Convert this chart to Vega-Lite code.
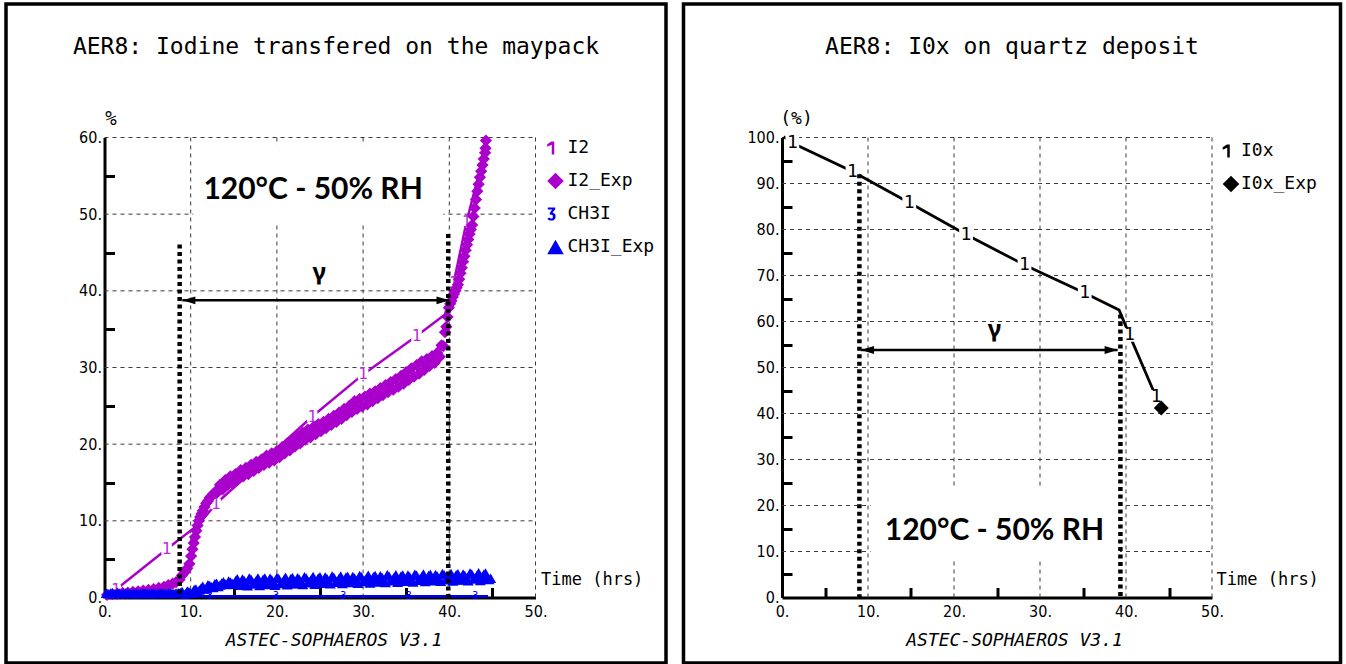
{
  "$schema": "https://vega.github.io/schema/vega-lite/v6.json",
  "background": "white",
  "padding": {"left": 4, "top": 2, "right": 0, "bottom": 0},
  "spacing": 13.5,
  "config": {
    "view": {"stroke": "black", "strokeWidth": 3.5},
    "axis": {"labelFont": "DejaVu Sans Condensed, DejaVu Sans Mono", "labelFontSize": 16, "labelColor": "black", "titleFont": "DejaVu Sans Mono", "titleColor": "black", "titleFontWeight": "normal", "domainColor": "black", "domainWidth": 3, "tickColor": "black", "tickWidth": 3, "grid": false, "labelOverlap": false, "labelFlush": false}
  },
  "resolve": {"scale": {"color": "independent", "shape": "independent"}, "legend": {"color": "independent", "shape": "independent"}},
  "datasets": {
    "gridV": [{"g": 10}, {"g": 20}, {"g": 30}, {"g": 40}, {"g": 50}],
    "lGridH": [{"g": 10}, {"g": 20}, {"g": 30}, {"g": 40}, {"g": 50}, {"g": 60}],
    "rGridH": [{"g": 10}, {"g": 20}, {"g": 30}, {"g": 40}, {"g": 50}, {"g": 60}, {"g": 70}, {"g": 80}, {"g": 90}, {"g": 100}],
    "lBox": [{"x1": 10.3, "x2": 39.3, "y1": 48.6, "y2": 59.0}],
    "rBox": [{"x1": 10.3, "x2": 39.3, "y1": 8, "y2": 24}],
    "lCond": [{"t": 24.2, "v": 53.1, "label": "120°C - 50% RH"}],
    "rCond": [{"t": 24.7, "v": 14.4, "label": "120°C - 50% RH"}],
    "i2Sim": [{"t": 0.6, "v": 0.4}, {"t": 1.3, "v": 1.0}, {"t": 7.2, "v": 6.3}, {"t": 11.0, "v": 9.6}, {"t": 12.9, "v": 12.2}, {"t": 18.6, "v": 18.0}, {"t": 24.1, "v": 23.6}, {"t": 30.0, "v": 29.1}, {"t": 36.2, "v": 34.1}, {"t": 39.5, "v": 36.9}, {"t": 40.5, "v": 41.0}, {"t": 42.0, "v": 49.0}, {"t": 44.3, "v": 59.0}],
    "i2Marks": [{"t": 1.3, "v": 1.0, "m": "1"}, {"t": 7.2, "v": 6.3, "m": "1"}, {"t": 12.9, "v": 12.2, "m": "1"}, {"t": 18.6, "v": 18.0, "m": "1"}, {"t": 24.1, "v": 23.6, "m": "1"}, {"t": 30.0, "v": 29.1, "m": "1"}, {"t": 36.2, "v": 34.1, "m": "1"}, {"t": 40.5, "v": 41.0, "m": "1"}, {"t": 42.0, "v": 49.0, "m": "1"}],
    "lExp": [
      {"t": 0.3, "v": 0.35, "s": "I2_Exp"}, {"t": 0.9, "v": 0.45, "s": "I2_Exp"}, {"t": 1.5, "v": 0.5, "s": "I2_Exp"}, {"t": 2.1, "v": 0.6, "s": "I2_Exp"}, {"t": 2.7, "v": 0.65, "s": "I2_Exp"}, {"t": 3.3, "v": 0.75, "s": "I2_Exp"}, {"t": 3.9, "v": 0.8, "s": "I2_Exp"}, {"t": 4.5, "v": 0.9, "s": "I2_Exp"}, {"t": 5.1, "v": 1.0, "s": "I2_Exp"}, {"t": 5.7, "v": 1.1, "s": "I2_Exp"}, {"t": 6.3, "v": 1.25, "s": "I2_Exp"}, {"t": 6.9, "v": 1.4, "s": "I2_Exp"}, {"t": 7.4, "v": 1.6, "s": "I2_Exp"}, {"t": 7.9, "v": 1.8, "s": "I2_Exp"}, {"t": 8.3, "v": 2.0, "s": "I2_Exp"}, {"t": 8.7, "v": 2.3, "s": "I2_Exp"},
      {"t": 9.0, "v": 2.9, "s": "I2_Exp"}, {"t": 9.3, "v": 3.3, "s": "I2_Exp"}, {"t": 9.6, "v": 3.8, "s": "I2_Exp"}, {"t": 9.85, "v": 4.4, "s": "I2_Exp"}, {"t": 10.05, "v": 5.4, "s": "I2_Exp"}, {"t": 10.2, "v": 6.3, "s": "I2_Exp"}, {"t": 10.35, "v": 7.1, "s": "I2_Exp"}, {"t": 10.5, "v": 7.9, "s": "I2_Exp"}, {"t": 10.65, "v": 8.7, "s": "I2_Exp"}, {"t": 10.8, "v": 9.4, "s": "I2_Exp"}, {"t": 10.95, "v": 10.0, "s": "I2_Exp"}, {"t": 11.1, "v": 10.5, "s": "I2_Exp"}, {"t": 11.25, "v": 10.9, "s": "I2_Exp"}, {"t": 11.4, "v": 11.3, "s": "I2_Exp"}, {"t": 11.6, "v": 11.8, "s": "I2_Exp"}, {"t": 11.8, "v": 12.3, "s": "I2_Exp"}, {"t": 12.0, "v": 12.6, "s": "I2_Exp"}, {"t": 12.2, "v": 13.0, "s": "I2_Exp"}, {"t": 12.4, "v": 13.2, "s": "I2_Exp"}, {"t": 12.6, "v": 13.5, "s": "I2_Exp"}, {"t": 12.8, "v": 13.7, "s": "I2_Exp"}, {"t": 13.0, "v": 13.9, "s": "I2_Exp"},
      {"t": 13.1, "v": 13.7, "s": "I2_Exp"}, {"t": 13.4, "v": 14.7, "s": "I2_Exp"}, {"t": 13.7, "v": 14.1, "s": "I2_Exp"}, {"t": 14.0, "v": 15.3, "s": "I2_Exp"}, {"t": 14.3, "v": 14.7, "s": "I2_Exp"}, {"t": 14.6, "v": 15.8, "s": "I2_Exp"}, {"t": 14.9, "v": 14.9, "s": "I2_Exp"}, {"t": 15.2, "v": 16.1, "s": "I2_Exp"}, {"t": 15.5, "v": 15.4, "s": "I2_Exp"}, {"t": 15.8, "v": 16.6, "s": "I2_Exp"}, {"t": 16.1, "v": 15.8, "s": "I2_Exp"}, {"t": 16.4, "v": 16.9, "s": "I2_Exp"}, {"t": 16.7, "v": 16.1, "s": "I2_Exp"}, {"t": 17.0, "v": 17.3, "s": "I2_Exp"}, {"t": 17.3, "v": 16.5, "s": "I2_Exp"}, {"t": 17.6, "v": 17.7, "s": "I2_Exp"}, {"t": 17.9, "v": 16.9, "s": "I2_Exp"}, {"t": 18.2, "v": 18.0, "s": "I2_Exp"}, {"t": 18.5, "v": 17.3, "s": "I2_Exp"}, {"t": 18.8, "v": 18.5, "s": "I2_Exp"}, {"t": 19.1, "v": 17.6, "s": "I2_Exp"}, {"t": 19.4, "v": 18.8, "s": "I2_Exp"}, {"t": 19.7, "v": 17.9, "s": "I2_Exp"}, {"t": 20.0, "v": 19.1, "s": "I2_Exp"}, {"t": 20.3, "v": 18.3, "s": "I2_Exp"}, {"t": 20.6, "v": 19.6, "s": "I2_Exp"}, {"t": 20.9, "v": 18.8, "s": "I2_Exp"}, {"t": 21.2, "v": 20.1, "s": "I2_Exp"}, {"t": 21.5, "v": 19.2, "s": "I2_Exp"}, {"t": 21.8, "v": 20.6, "s": "I2_Exp"}, {"t": 22.1, "v": 19.7, "s": "I2_Exp"}, {"t": 22.4, "v": 21.0, "s": "I2_Exp"}, {"t": 22.7, "v": 20.1, "s": "I2_Exp"}, {"t": 23.0, "v": 21.5, "s": "I2_Exp"}, {"t": 23.3, "v": 20.6, "s": "I2_Exp"}, {"t": 23.6, "v": 21.9, "s": "I2_Exp"}, {"t": 23.9, "v": 20.9, "s": "I2_Exp"}, {"t": 24.2, "v": 22.2, "s": "I2_Exp"}, {"t": 24.5, "v": 21.3, "s": "I2_Exp"}, {"t": 24.8, "v": 22.6, "s": "I2_Exp"}, {"t": 25.1, "v": 21.7, "s": "I2_Exp"}, {"t": 25.4, "v": 22.9, "s": "I2_Exp"}, {"t": 25.7, "v": 22.1, "s": "I2_Exp"}, {"t": 26.0, "v": 23.3, "s": "I2_Exp"}, {"t": 26.3, "v": 22.5, "s": "I2_Exp"}, {"t": 26.6, "v": 23.7, "s": "I2_Exp"}, {"t": 26.9, "v": 22.9, "s": "I2_Exp"}, {"t": 27.2, "v": 24.1, "s": "I2_Exp"}, {"t": 27.5, "v": 23.3, "s": "I2_Exp"}, {"t": 27.8, "v": 24.6, "s": "I2_Exp"}, {"t": 28.1, "v": 23.8, "s": "I2_Exp"}, {"t": 28.4, "v": 25.0, "s": "I2_Exp"}, {"t": 28.7, "v": 24.2, "s": "I2_Exp"}, {"t": 29.0, "v": 25.6, "s": "I2_Exp"}, {"t": 29.3, "v": 24.6, "s": "I2_Exp"}, {"t": 29.6, "v": 25.9, "s": "I2_Exp"}, {"t": 29.9, "v": 24.9, "s": "I2_Exp"}, {"t": 30.2, "v": 26.2, "s": "I2_Exp"}, {"t": 30.5, "v": 25.2, "s": "I2_Exp"}, {"t": 30.8, "v": 26.6, "s": "I2_Exp"}, {"t": 31.1, "v": 25.6, "s": "I2_Exp"}, {"t": 31.4, "v": 26.9, "s": "I2_Exp"}, {"t": 31.7, "v": 26.0, "s": "I2_Exp"}, {"t": 32.0, "v": 27.3, "s": "I2_Exp"}, {"t": 32.3, "v": 26.4, "s": "I2_Exp"}, {"t": 32.6, "v": 27.7, "s": "I2_Exp"}, {"t": 32.9, "v": 26.8, "s": "I2_Exp"}, {"t": 33.2, "v": 28.1, "s": "I2_Exp"}, {"t": 33.5, "v": 27.1, "s": "I2_Exp"}, {"t": 33.8, "v": 28.5, "s": "I2_Exp"}, {"t": 34.1, "v": 27.5, "s": "I2_Exp"}, {"t": 34.4, "v": 28.9, "s": "I2_Exp"}, {"t": 34.7, "v": 27.9, "s": "I2_Exp"}, {"t": 35.0, "v": 29.4, "s": "I2_Exp"}, {"t": 35.3, "v": 28.4, "s": "I2_Exp"}, {"t": 35.6, "v": 29.9, "s": "I2_Exp"}, {"t": 35.9, "v": 28.8, "s": "I2_Exp"}, {"t": 36.2, "v": 30.3, "s": "I2_Exp"}, {"t": 36.5, "v": 29.2, "s": "I2_Exp"}, {"t": 36.8, "v": 30.8, "s": "I2_Exp"}, {"t": 37.1, "v": 29.7, "s": "I2_Exp"}, {"t": 37.4, "v": 31.1, "s": "I2_Exp"}, {"t": 37.7, "v": 30.2, "s": "I2_Exp"}, {"t": 38.0, "v": 31.5, "s": "I2_Exp"}, {"t": 38.3, "v": 30.6, "s": "I2_Exp"}, {"t": 38.6, "v": 31.9, "s": "I2_Exp"}, {"t": 38.9, "v": 31.4, "s": "I2_Exp"}, {"t": 39.1, "v": 32.9, "s": "I2_Exp"}, {"t": 39.3, "v": 32.8, "s": "I2_Exp"}, {"t": 39.5, "v": 34.6, "s": "I2_Exp"}, {"t": 39.65, "v": 35.3, "s": "I2_Exp"}, {"t": 39.8, "v": 36.6, "s": "I2_Exp"},
      {"t": 39.95, "v": 37.8, "s": "I2_Exp"}, {"t": 40.1, "v": 38.3, "s": "I2_Exp"}, {"t": 40.25, "v": 38.7, "s": "I2_Exp"}, {"t": 40.4, "v": 39.2, "s": "I2_Exp"}, {"t": 40.55, "v": 39.6, "s": "I2_Exp"}, {"t": 40.7, "v": 40.0, "s": "I2_Exp"}, {"t": 40.85, "v": 40.4, "s": "I2_Exp"}, {"t": 41.0, "v": 40.8, "s": "I2_Exp"}, {"t": 41.15, "v": 41.5, "s": "I2_Exp"}, {"t": 41.3, "v": 42.3, "s": "I2_Exp"}, {"t": 41.45, "v": 43.0, "s": "I2_Exp"}, {"t": 41.6, "v": 43.8, "s": "I2_Exp"}, {"t": 41.75, "v": 44.5, "s": "I2_Exp"}, {"t": 41.9, "v": 45.3, "s": "I2_Exp"}, {"t": 42.05, "v": 46.0, "s": "I2_Exp"}, {"t": 42.2, "v": 46.7, "s": "I2_Exp"}, {"t": 42.35, "v": 47.4, "s": "I2_Exp"}, {"t": 42.5, "v": 48.0, "s": "I2_Exp"}, {"t": 42.65, "v": 48.6, "s": "I2_Exp"}, {"t": 42.8, "v": 49.7, "s": "I2_Exp"}, {"t": 42.95, "v": 50.8, "s": "I2_Exp"}, {"t": 43.1, "v": 51.9, "s": "I2_Exp"}, {"t": 43.25, "v": 53.0, "s": "I2_Exp"}, {"t": 43.4, "v": 53.9, "s": "I2_Exp"}, {"t": 43.55, "v": 54.8, "s": "I2_Exp"}, {"t": 43.7, "v": 55.6, "s": "I2_Exp"}, {"t": 43.85, "v": 56.4, "s": "I2_Exp"}, {"t": 44.0, "v": 57.2, "s": "I2_Exp"}, {"t": 44.15, "v": 58.0, "s": "I2_Exp"}, {"t": 44.2, "v": 58.6, "s": "I2_Exp"}, {"t": 44.25, "v": 59.6, "s": "I2_Exp"},
      {"t": 0.2, "v": 0.55, "s": "CH3I_Exp"}, {"t": 0.7, "v": 0.6, "s": "CH3I_Exp"}, {"t": 1.2, "v": 0.5, "s": "CH3I_Exp"}, {"t": 1.7, "v": 0.6, "s": "CH3I_Exp"}, {"t": 2.2, "v": 0.55, "s": "CH3I_Exp"}, {"t": 2.7, "v": 0.6, "s": "CH3I_Exp"}, {"t": 3.2, "v": 0.5, "s": "CH3I_Exp"}, {"t": 3.7, "v": 0.6, "s": "CH3I_Exp"}, {"t": 4.2, "v": 0.55, "s": "CH3I_Exp"}, {"t": 4.7, "v": 0.6, "s": "CH3I_Exp"}, {"t": 5.2, "v": 0.5, "s": "CH3I_Exp"}, {"t": 5.7, "v": 0.62, "s": "CH3I_Exp"}, {"t": 6.2, "v": 0.55, "s": "CH3I_Exp"}, {"t": 6.7, "v": 0.6, "s": "CH3I_Exp"}, {"t": 7.2, "v": 0.52, "s": "CH3I_Exp"}, {"t": 7.7, "v": 0.62, "s": "CH3I_Exp"}, {"t": 8.2, "v": 0.55, "s": "CH3I_Exp"}, {"t": 8.6, "v": 0.62, "s": "CH3I_Exp"},
      {"t": 0.45, "v": 0.5, "s": "CH3I_Exp"}, {"t": 0.95, "v": 0.58, "s": "CH3I_Exp"}, {"t": 1.45, "v": 0.55, "s": "CH3I_Exp"}, {"t": 1.95, "v": 0.5, "s": "CH3I_Exp"}, {"t": 2.45, "v": 0.6, "s": "CH3I_Exp"}, {"t": 2.95, "v": 0.55, "s": "CH3I_Exp"}, {"t": 3.45, "v": 0.58, "s": "CH3I_Exp"}, {"t": 3.95, "v": 0.5, "s": "CH3I_Exp"}, {"t": 4.45, "v": 0.6, "s": "CH3I_Exp"}, {"t": 4.95, "v": 0.55, "s": "CH3I_Exp"}, {"t": 5.45, "v": 0.58, "s": "CH3I_Exp"}, {"t": 5.95, "v": 0.5, "s": "CH3I_Exp"}, {"t": 6.45, "v": 0.6, "s": "CH3I_Exp"}, {"t": 6.95, "v": 0.55, "s": "CH3I_Exp"}, {"t": 7.45, "v": 0.58, "s": "CH3I_Exp"}, {"t": 7.95, "v": 0.52, "s": "CH3I_Exp"}, {"t": 8.4, "v": 0.6, "s": "CH3I_Exp"}, {"t": 8.8, "v": 0.66, "s": "CH3I_Exp"},
      {"t": 9.0, "v": 0.77, "s": "CH3I_Exp"}, {"t": 9.4, "v": 0.5, "s": "CH3I_Exp"}, {"t": 9.8, "v": 0.75, "s": "CH3I_Exp"}, {"t": 10.2, "v": 0.55, "s": "CH3I_Exp"}, {"t": 10.6, "v": 1.1, "s": "CH3I_Exp"}, {"t": 11.0, "v": 0.98, "s": "CH3I_Exp"}, {"t": 11.4, "v": 1.47, "s": "CH3I_Exp"}, {"t": 11.8, "v": 1.15, "s": "CH3I_Exp"}, {"t": 12.2, "v": 1.55, "s": "CH3I_Exp"}, {"t": 12.6, "v": 1.3, "s": "CH3I_Exp"}, {"t": 13.0, "v": 1.85, "s": "CH3I_Exp"}, {"t": 13.4, "v": 1.64, "s": "CH3I_Exp"}, {"t": 13.8, "v": 2.06, "s": "CH3I_Exp"}, {"t": 14.2, "v": 1.68, "s": "CH3I_Exp"}, {"t": 14.6, "v": 2.03, "s": "CH3I_Exp"}, {"t": 15.0, "v": 1.72, "s": "CH3I_Exp"},
      {"t": 9.2, "v": 0.45, "s": "CH3I_Exp"}, {"t": 9.6, "v": 0.85, "s": "CH3I_Exp"}, {"t": 10.0, "v": 0.6, "s": "CH3I_Exp"}, {"t": 10.4, "v": 1.05, "s": "CH3I_Exp"}, {"t": 10.8, "v": 0.75, "s": "CH3I_Exp"}, {"t": 11.2, "v": 1.25, "s": "CH3I_Exp"}, {"t": 11.6, "v": 1.1, "s": "CH3I_Exp"}, {"t": 12.0, "v": 1.67, "s": "CH3I_Exp"}, {"t": 12.4, "v": 1.4, "s": "CH3I_Exp"}, {"t": 12.8, "v": 1.8, "s": "CH3I_Exp"}, {"t": 13.2, "v": 1.45, "s": "CH3I_Exp"}, {"t": 13.6, "v": 1.88, "s": "CH3I_Exp"}, {"t": 14.0, "v": 1.75, "s": "CH3I_Exp"}, {"t": 14.4, "v": 2.15, "s": "CH3I_Exp"}, {"t": 14.8, "v": 1.85, "s": "CH3I_Exp"}, {"t": 15.2, "v": 2.19, "s": "CH3I_Exp"},
      {"t": 15.4, "v": 2.45, "s": "CH3I_Exp"}, {"t": 15.8, "v": 1.61, "s": "CH3I_Exp"}, {"t": 16.2, "v": 2.22, "s": "CH3I_Exp"}, {"t": 16.6, "v": 1.53, "s": "CH3I_Exp"}, {"t": 17.0, "v": 2.39, "s": "CH3I_Exp"}, {"t": 17.4, "v": 1.9, "s": "CH3I_Exp"}, {"t": 17.8, "v": 2.56, "s": "CH3I_Exp"}, {"t": 18.2, "v": 1.77, "s": "CH3I_Exp"}, {"t": 18.6, "v": 2.53, "s": "CH3I_Exp"}, {"t": 19.0, "v": 1.69, "s": "CH3I_Exp"}, {"t": 19.4, "v": 2.3, "s": "CH3I_Exp"}, {"t": 19.8, "v": 1.61, "s": "CH3I_Exp"}, {"t": 20.2, "v": 2.47, "s": "CH3I_Exp"}, {"t": 20.6, "v": 1.99, "s": "CH3I_Exp"}, {"t": 21.0, "v": 2.65, "s": "CH3I_Exp"}, {"t": 21.4, "v": 1.86, "s": "CH3I_Exp"}, {"t": 21.8, "v": 2.62, "s": "CH3I_Exp"}, {"t": 22.2, "v": 1.78, "s": "CH3I_Exp"}, {"t": 22.6, "v": 2.39, "s": "CH3I_Exp"}, {"t": 23.0, "v": 1.7, "s": "CH3I_Exp"}, {"t": 23.4, "v": 2.56, "s": "CH3I_Exp"}, {"t": 23.8, "v": 2.07, "s": "CH3I_Exp"}, {"t": 24.2, "v": 2.73, "s": "CH3I_Exp"}, {"t": 24.6, "v": 1.94, "s": "CH3I_Exp"}, {"t": 25.0, "v": 2.7, "s": "CH3I_Exp"}, {"t": 25.4, "v": 1.86, "s": "CH3I_Exp"}, {"t": 25.8, "v": 2.47, "s": "CH3I_Exp"}, {"t": 26.2, "v": 1.78, "s": "CH3I_Exp"}, {"t": 26.6, "v": 2.64, "s": "CH3I_Exp"}, {"t": 27.0, "v": 2.15, "s": "CH3I_Exp"}, {"t": 27.4, "v": 2.81, "s": "CH3I_Exp"}, {"t": 27.8, "v": 2.02, "s": "CH3I_Exp"}, {"t": 28.2, "v": 2.78, "s": "CH3I_Exp"}, {"t": 28.6, "v": 1.94, "s": "CH3I_Exp"}, {"t": 29.0, "v": 2.55, "s": "CH3I_Exp"}, {"t": 29.4, "v": 1.86, "s": "CH3I_Exp"}, {"t": 29.8, "v": 2.72, "s": "CH3I_Exp"}, {"t": 30.2, "v": 2.23, "s": "CH3I_Exp"}, {"t": 30.6, "v": 2.9, "s": "CH3I_Exp"}, {"t": 31.0, "v": 2.11, "s": "CH3I_Exp"}, {"t": 31.4, "v": 2.87, "s": "CH3I_Exp"}, {"t": 31.8, "v": 2.03, "s": "CH3I_Exp"}, {"t": 32.2, "v": 2.64, "s": "CH3I_Exp"}, {"t": 32.6, "v": 1.95, "s": "CH3I_Exp"}, {"t": 33.0, "v": 2.81, "s": "CH3I_Exp"}, {"t": 33.4, "v": 2.32, "s": "CH3I_Exp"}, {"t": 33.8, "v": 2.98, "s": "CH3I_Exp"}, {"t": 34.2, "v": 2.19, "s": "CH3I_Exp"}, {"t": 34.6, "v": 2.95, "s": "CH3I_Exp"}, {"t": 35.0, "v": 2.11, "s": "CH3I_Exp"}, {"t": 35.4, "v": 2.72, "s": "CH3I_Exp"}, {"t": 35.8, "v": 2.03, "s": "CH3I_Exp"}, {"t": 36.2, "v": 2.89, "s": "CH3I_Exp"}, {"t": 36.6, "v": 2.4, "s": "CH3I_Exp"}, {"t": 37.0, "v": 3.06, "s": "CH3I_Exp"}, {"t": 37.4, "v": 2.27, "s": "CH3I_Exp"}, {"t": 37.8, "v": 3.03, "s": "CH3I_Exp"}, {"t": 38.2, "v": 2.19, "s": "CH3I_Exp"}, {"t": 38.6, "v": 2.8, "s": "CH3I_Exp"}, {"t": 39.0, "v": 2.11, "s": "CH3I_Exp"}, {"t": 39.4, "v": 2.97, "s": "CH3I_Exp"}, {"t": 39.8, "v": 2.48, "s": "CH3I_Exp"}, {"t": 40.2, "v": 3.14, "s": "CH3I_Exp"}, {"t": 40.6, "v": 2.35, "s": "CH3I_Exp"}, {"t": 41.0, "v": 3.11, "s": "CH3I_Exp"}, {"t": 41.4, "v": 2.27, "s": "CH3I_Exp"}, {"t": 41.8, "v": 2.88, "s": "CH3I_Exp"}, {"t": 42.2, "v": 2.19, "s": "CH3I_Exp"}, {"t": 42.6, "v": 3.05, "s": "CH3I_Exp"}, {"t": 43.0, "v": 2.56, "s": "CH3I_Exp"}, {"t": 43.4, "v": 3.22, "s": "CH3I_Exp"}, {"t": 43.8, "v": 2.43, "s": "CH3I_Exp"}, {"t": 44.2, "v": 3.19, "s": "CH3I_Exp"}, {"t": 44.6, "v": 2.35, "s": "CH3I_Exp"},
      {"t": 15.6, "v": 1.66, "s": "CH3I_Exp"}, {"t": 16.0, "v": 2.42, "s": "CH3I_Exp"}, {"t": 16.4, "v": 1.83, "s": "CH3I_Exp"}, {"t": 16.8, "v": 2.54, "s": "CH3I_Exp"}, {"t": 17.2, "v": 1.75, "s": "CH3I_Exp"}, {"t": 17.6, "v": 2.21, "s": "CH3I_Exp"}, {"t": 18.0, "v": 1.57, "s": "CH3I_Exp"}, {"t": 18.4, "v": 2.38, "s": "CH3I_Exp"}, {"t": 18.8, "v": 1.74, "s": "CH3I_Exp"}, {"t": 19.2, "v": 2.5, "s": "CH3I_Exp"}, {"t": 19.6, "v": 1.91, "s": "CH3I_Exp"}, {"t": 20.0, "v": 2.62, "s": "CH3I_Exp"}, {"t": 20.4, "v": 1.83, "s": "CH3I_Exp"}, {"t": 20.8, "v": 2.29, "s": "CH3I_Exp"}, {"t": 21.2, "v": 1.65, "s": "CH3I_Exp"}, {"t": 21.6, "v": 2.46, "s": "CH3I_Exp"}, {"t": 22.0, "v": 1.82, "s": "CH3I_Exp"}, {"t": 22.4, "v": 2.58, "s": "CH3I_Exp"}, {"t": 22.8, "v": 1.99, "s": "CH3I_Exp"}, {"t": 23.2, "v": 2.7, "s": "CH3I_Exp"}, {"t": 23.6, "v": 1.92, "s": "CH3I_Exp"}, {"t": 24.0, "v": 2.38, "s": "CH3I_Exp"}, {"t": 24.4, "v": 1.74, "s": "CH3I_Exp"}, {"t": 24.8, "v": 2.55, "s": "CH3I_Exp"}, {"t": 25.2, "v": 1.91, "s": "CH3I_Exp"}, {"t": 25.6, "v": 2.67, "s": "CH3I_Exp"}, {"t": 26.0, "v": 2.08, "s": "CH3I_Exp"}, {"t": 26.4, "v": 2.79, "s": "CH3I_Exp"}, {"t": 26.8, "v": 2.0, "s": "CH3I_Exp"}, {"t": 27.2, "v": 2.46, "s": "CH3I_Exp"}, {"t": 27.6, "v": 1.82, "s": "CH3I_Exp"}, {"t": 28.0, "v": 2.63, "s": "CH3I_Exp"}, {"t": 28.4, "v": 1.99, "s": "CH3I_Exp"}, {"t": 28.8, "v": 2.75, "s": "CH3I_Exp"}, {"t": 29.2, "v": 2.16, "s": "CH3I_Exp"}, {"t": 29.6, "v": 2.87, "s": "CH3I_Exp"}, {"t": 30.0, "v": 2.08, "s": "CH3I_Exp"}, {"t": 30.4, "v": 2.54, "s": "CH3I_Exp"}, {"t": 30.8, "v": 1.9, "s": "CH3I_Exp"}, {"t": 31.2, "v": 2.71, "s": "CH3I_Exp"}, {"t": 31.6, "v": 2.07, "s": "CH3I_Exp"}, {"t": 32.0, "v": 2.83, "s": "CH3I_Exp"}, {"t": 32.4, "v": 2.25, "s": "CH3I_Exp"}, {"t": 32.8, "v": 2.96, "s": "CH3I_Exp"}, {"t": 33.2, "v": 2.17, "s": "CH3I_Exp"}, {"t": 33.6, "v": 2.63, "s": "CH3I_Exp"}, {"t": 34.0, "v": 1.99, "s": "CH3I_Exp"}, {"t": 34.4, "v": 2.8, "s": "CH3I_Exp"}, {"t": 34.8, "v": 2.16, "s": "CH3I_Exp"}, {"t": 35.2, "v": 2.92, "s": "CH3I_Exp"}, {"t": 35.6, "v": 2.33, "s": "CH3I_Exp"}, {"t": 36.0, "v": 3.04, "s": "CH3I_Exp"}, {"t": 36.4, "v": 2.25, "s": "CH3I_Exp"}, {"t": 36.8, "v": 2.71, "s": "CH3I_Exp"}, {"t": 37.2, "v": 2.07, "s": "CH3I_Exp"}, {"t": 37.6, "v": 2.88, "s": "CH3I_Exp"}, {"t": 38.0, "v": 2.24, "s": "CH3I_Exp"}, {"t": 38.4, "v": 3.0, "s": "CH3I_Exp"}, {"t": 38.8, "v": 2.41, "s": "CH3I_Exp"}, {"t": 39.2, "v": 3.12, "s": "CH3I_Exp"}, {"t": 39.6, "v": 2.33, "s": "CH3I_Exp"}, {"t": 40.0, "v": 2.79, "s": "CH3I_Exp"}, {"t": 40.4, "v": 2.15, "s": "CH3I_Exp"}, {"t": 40.8, "v": 2.96, "s": "CH3I_Exp"}, {"t": 41.2, "v": 2.32, "s": "CH3I_Exp"}, {"t": 41.6, "v": 3.08, "s": "CH3I_Exp"}, {"t": 42.0, "v": 2.49, "s": "CH3I_Exp"}, {"t": 42.4, "v": 3.2, "s": "CH3I_Exp"}, {"t": 42.8, "v": 2.41, "s": "CH3I_Exp"}, {"t": 43.2, "v": 2.87, "s": "CH3I_Exp"}, {"t": 43.6, "v": 2.23, "s": "CH3I_Exp"}, {"t": 44.0, "v": 3.04, "s": "CH3I_Exp"}, {"t": 44.4, "v": 2.4, "s": "CH3I_Exp"}, {"t": 44.8, "v": 2.5, "s": "CH3I_Exp"}
    ],
    "ch3iSim": [{"t": 0, "v": 0.15}, {"t": 44.5, "v": 0.15}],
    "ch3iMarks": [{"t": 12.2, "v": 0.15, "m": "3"}, {"t": 19.9, "v": 0.15, "m": "3"}, {"t": 27.7, "v": 0.15, "m": "3"}, {"t": 35.3, "v": 0.15, "m": "3"}, {"t": 43.0, "v": 0.15, "m": "3"}],
    "lGuides": [{"t": 8.72, "top": 46.05}, {"t": 39.88, "top": 47.4}],
    "lArrow": [{"x1": 9.03, "x2": 40.03, "v": 38.76}],
    "lHeadL": [{"t": 9.79, "v": 38.76}],
    "lHeadR": [{"t": 39.27, "v": 38.76}],
    "lGamma": [{"t": 24.9, "v": 42.3, "label": "γ"}],
    "i0xSim": [{"t": 0.2, "v": 100.2}, {"t": 1.2, "v": 98.8}, {"t": 8.2, "v": 92.6}, {"t": 14.8, "v": 85.8}, {"t": 21.4, "v": 78.9}, {"t": 28.2, "v": 72.3}, {"t": 35.2, "v": 66.2}, {"t": 39.2, "v": 62.5}, {"t": 40.4, "v": 57.1}, {"t": 43.5, "v": 43.6}, {"t": 44.0, "v": 41.6}],
    "i0xMarks": [{"t": 1.2, "v": 98.8, "m": "1"}, {"t": 8.2, "v": 92.6, "m": "1"}, {"t": 14.8, "v": 85.8, "m": "1"}, {"t": 21.4, "v": 78.9, "m": "1"}, {"t": 28.2, "v": 72.3, "m": "1"}, {"t": 35.2, "v": 66.2, "m": "1"}, {"t": 40.4, "v": 57.1, "m": "1"}, {"t": 43.5, "v": 43.6, "m": "1"}],
    "rExp": [{"t": 44.1, "v": 41.2, "s": "I0x_Exp"}],
    "rGuides": [{"t": 9.0, "top": 92.0}, {"t": 39.35, "top": 61.5}],
    "rArrow": [{"x1": 9.19, "x2": 39.03, "v": 53.8}],
    "rHeadL": [{"t": 9.95, "v": 53.8}],
    "rHeadR": [{"t": 38.27, "v": 53.8}],
    "rGamma": [{"t": 24.7, "v": 58.2, "label": "γ"}]
  },
  "hconcat": [
    {
      "width": 660,
      "height": 659,
      "title": {"text": "AER8: Iodine transfered on the maypack", "anchor": "middle", "frame": "group", "offset": -55, "font": "DejaVu Sans Mono", "fontSize": 23, "fontWeight": "normal", "color": "black"},
      "resolve": {"axis": {"x": "independent", "y": "independent"}},
      "layer": [
        {"data": {"name": "gridV"}, "mark": {"type": "rule", "color": "#3a3a3a", "strokeWidth": 1, "strokeDash": [4, 4]},
         "encoding": {"x": {"field": "g", "type": "quantitative", "scale": {"domain": [0, 50], "range": [98.5, 529.5], "nice": false, "zero": false}, "axis": null},
                      "y": {"datum": 0, "type": "quantitative", "scale": {"domain": [0, 60], "range": [593.5, 133.5], "nice": false, "zero": false}, "axis": null}, "y2": {"datum": 60}}},
        {"data": {"name": "lGridH"}, "mark": {"type": "rule", "color": "#3a3a3a", "strokeWidth": 1, "strokeDash": [4, 4]},
         "encoding": {"y": {"field": "g", "type": "quantitative", "scale": {"domain": [0, 60], "range": [593.5, 133.5], "nice": false, "zero": false}, "axis": null},
                      "x": {"datum": 0, "type": "quantitative", "scale": {"domain": [0, 50], "range": [98.5, 529.5], "nice": false, "zero": false}, "axis": null}, "x2": {"datum": 50}}},
        {"data": {"name": "lBox"}, "mark": {"type": "rect", "fill": "white"},
         "encoding": {"x": {"field": "x1", "type": "quantitative", "axis": null}, "x2": {"field": "x2"}, "y": {"field": "y1", "type": "quantitative", "axis": null}, "y2": {"field": "y2"}}},
        {"data": {"name": "lCond"}, "mark": {"type": "text", "font": "Lato", "fontWeight": "bold", "fontSize": 30, "color": "black", "align": "center", "baseline": "middle"},
         "encoding": {"x": {"field": "t", "type": "quantitative", "axis": null}, "y": {"field": "v", "type": "quantitative", "axis": null}, "text": {"field": "label"}}},
        {"data": {"name": "i2Sim"}, "mark": {"type": "line", "color": "#AA00CC", "strokeWidth": 2.5},
         "encoding": {
           "x": {"field": "t", "type": "quantitative", "axis": {"orient": "bottom", "offset": -65.5, "values": [0, 10, 20, 30, 40, 50], "ticks": false, "domain": true, "labelExpr": "datum.value + '.'", "labelFontSize": 16, "labelPadding": 6, "labelDx": 4, "title": "ASTEC-SOPHAEROS V3.1", "titleFontStyle": "italic", "titleFontSize": 18, "titleX": 327.5, "titleY": 43, "titleAlign": "center", "titleBaseline": "middle"}},
           "y": {"field": "v", "type": "quantitative", "axis": {"orient": "left", "offset": -98.5, "values": [0, 10, 20, 30, 40, 50, 60], "ticks": false, "domain": true, "labelExpr": "datum.value + '.'", "labelFontSize": 16, "labelPadding": 3, "labelDy": 2, "title": "%", "titleAngle": 0, "titleFontSize": 19, "titleX": 6, "titleY": 114, "titleAlign": "center", "titleBaseline": "middle"}}}},
        {"data": {"name": "i2Marks"}, "mark": {"type": "point", "shape": "square", "filled": true, "color": "white", "size": 110, "opacity": 1, "strokeWidth": 0},
         "encoding": {"x": {"field": "t", "type": "quantitative", "axis": null}, "y": {"field": "v", "type": "quantitative", "axis": null}}},
        {"data": {"name": "i2Marks"}, "mark": {"type": "text", "color": "#B830D8", "font": "DejaVu Sans Mono", "fontSize": 16, "align": "center", "baseline": "middle"},
         "encoding": {"x": {"field": "t", "type": "quantitative", "axis": null}, "y": {"field": "v", "type": "quantitative", "axis": null}, "text": {"field": "m"}}},
        {"data": {"name": "lExp"}, "mark": {"type": "point", "filled": true, "opacity": 1, "strokeWidth": 0},
         "encoding": {
           "x": {"field": "t", "type": "quantitative", "axis": {"orient": "bottom", "offset": -65.5, "values": [5, 15, 25, 35, 45], "labels": false, "domain": false, "ticks": true, "tickSize": -10, "title": "Time (hrs)", "titleFontSize": 17, "titleX": 534.5, "titleY": -18, "titleAlign": "left", "titleBaseline": "middle"}},
           "y": {"field": "v", "type": "quantitative", "axis": {"orient": "left", "offset": -98.5, "values": [5, 15, 25, 35, 45, 55], "labels": false, "domain": false, "ticks": true, "tickSize": -10, "title": null}},
           "size": {"field": "s", "type": "nominal", "scale": {"domain": ["I2_Exp", "CH3I_Exp"], "range": [150, 120]}, "legend": null},
           "color": {"field": "s", "type": "nominal", "scale": {"domain": ["I2", "I2_Exp", "CH3I", "CH3I_Exp"], "range": ["#AA00CC", "#AA00CC", "#0000F5", "#0000F5"]},
                     "legend": {"orient": "none", "legendX": 540.5, "legendY": 135, "title": null, "symbolSize": 275, "symbolStrokeWidth": 0, "labelFont": "DejaVu Sans Mono", "labelFontSize": 18, "labelColor": "black", "labelOffset": 3, "rowPadding": 15, "padding": 0, "labelLimit": 0}},
           "shape": {"field": "s", "type": "nominal", "scale": {"domain": ["I2", "I2_Exp", "CH3I", "CH3I_Exp"], "range": ["M-1,-0.45L-0.5,-0.77L-0.15,-0.77L-0.15,0.77L-0.45,0.77L-0.45,-0.4L-1,-0.15Z", "diamond", "M-0.93,-0.77L-0.04,-0.77L-0.04,-0.55L-0.36,-0.14L-0.17,-0.08L0,0.08L0,0.52L-0.26,0.77L-0.69,0.77L-1,0.59L-0.77,0.43L-0.59,0.55L-0.42,0.55L-0.33,0.46L-0.33,0.17L-0.44,0.09L-0.69,0.09L-0.69,-0.12L-0.41,-0.55L-0.93,-0.55Z", "triangle-up"]},
                     "legend": {"orient": "none", "legendX": 540.5, "legendY": 135, "title": null, "symbolSize": 275, "symbolStrokeWidth": 0, "labelFont": "DejaVu Sans Mono", "labelFontSize": 18, "labelColor": "black", "labelOffset": 3, "rowPadding": 15, "padding": 0, "labelLimit": 0}}}},
        {"data": {"name": "ch3iSim"}, "mark": {"type": "line", "color": "#0000F5", "strokeWidth": 2.5},
         "encoding": {"x": {"field": "t", "type": "quantitative", "axis": null}, "y": {"field": "v", "type": "quantitative", "axis": null}}},
        {"data": {"name": "ch3iMarks"}, "mark": {"type": "text", "color": "#0000F5", "font": "DejaVu Sans Mono", "fontSize": 10, "align": "center", "baseline": "middle"},
         "encoding": {"x": {"field": "t", "type": "quantitative", "axis": null}, "y": {"field": "v", "type": "quantitative", "axis": null}, "text": {"field": "m"}}},
        {"data": {"name": "lGuides"}, "mark": {"type": "rule", "color": "black", "strokeWidth": 4.5, "strokeDash": [4, 3.5]},
         "encoding": {"x": {"field": "t", "type": "quantitative", "axis": null}, "y": {"field": "top", "type": "quantitative", "axis": null}, "y2": {"datum": 0}}},
        {"data": {"name": "lArrow"}, "mark": {"type": "rule", "color": "black", "strokeWidth": 2.5},
         "encoding": {"x": {"field": "x1", "type": "quantitative", "axis": null}, "x2": {"field": "x2"}, "y": {"field": "v", "type": "quantitative", "axis": null}}},
        {"data": {"name": "lHeadL"}, "mark": {"type": "point", "shape": "M-1,0L1,-0.6L1,0.6Z", "filled": true, "color": "black", "size": 169, "opacity": 1, "strokeWidth": 0},
         "encoding": {"x": {"field": "t", "type": "quantitative", "axis": null}, "y": {"field": "v", "type": "quantitative", "axis": null}}},
        {"data": {"name": "lHeadR"}, "mark": {"type": "point", "shape": "M1,0L-1,-0.6L-1,0.6Z", "filled": true, "color": "black", "size": 169, "opacity": 1, "strokeWidth": 0},
         "encoding": {"x": {"field": "t", "type": "quantitative", "axis": null}, "y": {"field": "v", "type": "quantitative", "axis": null}}},
        {"data": {"name": "lGamma"}, "mark": {"type": "text", "font": "Noto Sans", "fontWeight": "bold", "fontSize": 24, "color": "black", "align": "center", "baseline": "middle"},
         "encoding": {"x": {"field": "t", "type": "quantitative", "axis": null}, "y": {"field": "v", "type": "quantitative", "axis": null}, "text": {"field": "label"}}}
      ]
    },
    {
      "width": 657,
      "height": 659,
      "title": {"text": "AER8: I0x on quartz deposit", "anchor": "middle", "frame": "group", "offset": -55, "font": "DejaVu Sans Mono", "fontSize": 23, "fontWeight": "normal", "color": "black"},
      "resolve": {"axis": {"x": "independent", "y": "independent"}},
      "layer": [
        {"data": {"name": "gridV"}, "mark": {"type": "rule", "color": "#3a3a3a", "strokeWidth": 1, "strokeDash": [4, 4]},
         "encoding": {"x": {"field": "g", "type": "quantitative", "scale": {"domain": [0, 50], "range": [98.5, 528.5], "nice": false, "zero": false}, "axis": null},
                      "y": {"datum": 0, "type": "quantitative", "scale": {"domain": [0, 100], "range": [593.5, 133.5], "nice": false, "zero": false}, "axis": null}, "y2": {"datum": 100}}},
        {"data": {"name": "rGridH"}, "mark": {"type": "rule", "color": "#3a3a3a", "strokeWidth": 1, "strokeDash": [4, 4]},
         "encoding": {"y": {"field": "g", "type": "quantitative", "scale": {"domain": [0, 100], "range": [593.5, 133.5], "nice": false, "zero": false}, "axis": null},
                      "x": {"datum": 0, "type": "quantitative", "scale": {"domain": [0, 50], "range": [98.5, 528.5], "nice": false, "zero": false}, "axis": null}, "x2": {"datum": 50}}},
        {"data": {"name": "rBox"}, "mark": {"type": "rect", "fill": "white"},
         "encoding": {"x": {"field": "x1", "type": "quantitative", "axis": null}, "x2": {"field": "x2"}, "y": {"field": "y1", "type": "quantitative", "axis": null}, "y2": {"field": "y2"}}},
        {"data": {"name": "rCond"}, "mark": {"type": "text", "font": "Lato", "fontWeight": "bold", "fontSize": 30, "color": "black", "align": "center", "baseline": "middle"},
         "encoding": {"x": {"field": "t", "type": "quantitative", "axis": null}, "y": {"field": "v", "type": "quantitative", "axis": null}, "text": {"field": "label"}}},
        {"data": {"name": "i0xSim"}, "mark": {"type": "line", "color": "black", "strokeWidth": 2.8},
         "encoding": {
           "x": {"field": "t", "type": "quantitative", "axis": {"orient": "bottom", "offset": -65.5, "values": [0, 10, 20, 30, 40, 50], "ticks": false, "domain": true, "labelExpr": "datum.value + '.'", "labelFontSize": 16, "labelPadding": 6, "labelDx": 4, "title": "ASTEC-SOPHAEROS V3.1", "titleFontStyle": "italic", "titleFontSize": 18, "titleX": 330.5, "titleY": 43, "titleAlign": "center", "titleBaseline": "middle"}},
           "y": {"field": "v", "type": "quantitative", "axis": {"orient": "left", "offset": -98.5, "values": [0, 10, 20, 30, 40, 50, 60, 70, 80, 90, 100], "ticks": false, "domain": true, "labelExpr": "datum.value + '.'", "labelFontSize": 16, "labelPadding": 3, "labelDy": 2, "title": "(%)", "titleAngle": 0, "titleFontSize": 18, "titleX": 14, "titleY": 114, "titleAlign": "center", "titleBaseline": "middle"}}}},
        {"data": {"name": "i0xMarks"}, "mark": {"type": "point", "shape": "square", "filled": true, "color": "white", "size": 190, "opacity": 1, "strokeWidth": 0},
         "encoding": {"x": {"field": "t", "type": "quantitative", "axis": null}, "y": {"field": "v", "type": "quantitative", "axis": null}}},
        {"data": {"name": "i0xMarks"}, "mark": {"type": "text", "color": "black", "font": "DejaVu Sans Mono", "fontSize": 18, "align": "center", "baseline": "middle"},
         "encoding": {"x": {"field": "t", "type": "quantitative", "axis": null}, "y": {"field": "v", "type": "quantitative", "axis": null}, "text": {"field": "m"}}},
        {"data": {"name": "rExp"}, "mark": {"type": "point", "filled": true, "size": 220, "opacity": 1, "strokeWidth": 0},
         "encoding": {
           "x": {"field": "t", "type": "quantitative", "axis": {"orient": "bottom", "offset": -65.5, "values": [5, 15, 25, 35, 45], "labels": false, "domain": false, "ticks": true, "tickSize": -10, "title": "Time (hrs)", "titleFontSize": 17, "titleX": 532.5, "titleY": -18, "titleAlign": "left", "titleBaseline": "middle"}},
           "y": {"field": "v", "type": "quantitative", "axis": {"orient": "left", "offset": -98.5, "values": [5, 15, 25, 35, 45, 55, 65, 75, 85, 95], "labels": false, "domain": false, "ticks": true, "tickSize": -10, "title": null}},
           "color": {"field": "s", "type": "nominal", "scale": {"domain": ["I0x", "I0x_Exp"], "range": ["black", "black"]},
                     "legend": {"orient": "none", "legendX": 538.5, "legendY": 138, "title": null, "symbolSize": 275, "symbolStrokeWidth": 0, "labelFont": "DejaVu Sans Mono", "labelFontSize": 18, "labelColor": "black", "labelOffset": 1, "rowPadding": 15, "padding": 0, "labelLimit": 0}},
           "shape": {"field": "s", "type": "nominal", "scale": {"domain": ["I0x", "I0x_Exp"], "range": ["M-1,-0.45L-0.5,-0.77L-0.15,-0.77L-0.15,0.77L-0.45,0.77L-0.45,-0.4L-1,-0.15Z", "diamond"]},
                     "legend": {"orient": "none", "legendX": 538.5, "legendY": 138, "title": null, "symbolSize": 275, "symbolStrokeWidth": 0, "labelFont": "DejaVu Sans Mono", "labelFontSize": 18, "labelColor": "black", "labelOffset": 1, "rowPadding": 15, "padding": 0, "labelLimit": 0}}}},
        {"data": {"name": "rGuides"}, "mark": {"type": "rule", "color": "black", "strokeWidth": 4.5, "strokeDash": [4, 3.5]},
         "encoding": {"x": {"field": "t", "type": "quantitative", "axis": null}, "y": {"field": "top", "type": "quantitative", "axis": null}, "y2": {"datum": 0}}},
        {"data": {"name": "rArrow"}, "mark": {"type": "rule", "color": "black", "strokeWidth": 2.5},
         "encoding": {"x": {"field": "x1", "type": "quantitative", "axis": null}, "x2": {"field": "x2"}, "y": {"field": "v", "type": "quantitative", "axis": null}}},
        {"data": {"name": "rHeadL"}, "mark": {"type": "point", "shape": "M-1,0L1,-0.6L1,0.6Z", "filled": true, "color": "black", "size": 169, "opacity": 1, "strokeWidth": 0},
         "encoding": {"x": {"field": "t", "type": "quantitative", "axis": null}, "y": {"field": "v", "type": "quantitative", "axis": null}}},
        {"data": {"name": "rHeadR"}, "mark": {"type": "point", "shape": "M1,0L-1,-0.6L-1,0.6Z", "filled": true, "color": "black", "size": 169, "opacity": 1, "strokeWidth": 0},
         "encoding": {"x": {"field": "t", "type": "quantitative", "axis": null}, "y": {"field": "v", "type": "quantitative", "axis": null}}},
        {"data": {"name": "rGamma"}, "mark": {"type": "text", "font": "Noto Sans", "fontWeight": "bold", "fontSize": 24, "color": "black", "align": "center", "baseline": "middle"},
         "encoding": {"x": {"field": "t", "type": "quantitative", "axis": null}, "y": {"field": "v", "type": "quantitative", "axis": null}, "text": {"field": "label"}}}
      ]
    }
  ]
}
